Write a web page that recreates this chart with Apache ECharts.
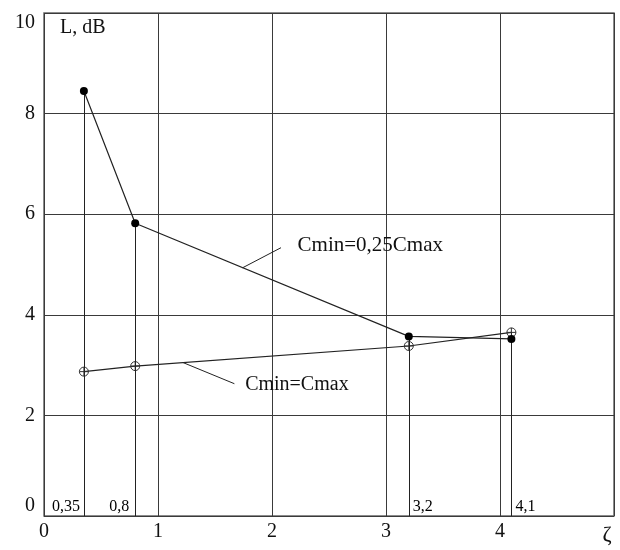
<!DOCTYPE html>
<html>
<head>
<meta charset="utf-8">
<script src="https://cdn.jsdelivr.net/npm/echarts@6/dist/echarts.min.js"></script>
<style>
html,body{margin:0;padding:0;background:#fff;}
#chart{width:620px;height:550px;}
</style>
</head>
<body>
<div id="chart"></div>
<script>
// ---- data ----
const xValues = [0.35, 0.8, 3.2, 4.1];
const seriesQuarter = [8.45, 5.82, 3.57, 3.52];   // Cmin=0,25Cmax (filled markers)
const seriesEqual = [2.87, 2.98, 3.38, 3.65];     // Cmin=Cmax (open markers)
const seriesNames = ['Cmin=0,25Cmax', 'Cmin=Cmax'];
const dropLabels = ['0,35', '0,8', '3,2', '4,1'];
const xTickLabels = ['0', '1', '2', '3', '4', 'ζ'];
const yTickLabels = ['0', '2', '4', '6', '8', '10'];
const yAxisTitle = 'L, dB';

const FONT = '"Liberation Serif", "DejaVu Serif", serif';
const INK = '#222';

const chart = echarts.init(document.getElementById('chart'), null, {renderer: 'canvas'});

const pairsQuarter = xValues.map((x, i) => [x, seriesQuarter[i]]);
const pairsEqual = xValues.map((x, i) => [x, seriesEqual[i]]);
const dropLines = xValues.map((x, i) => [
  {coord: [x, 0]},
  {coord: [x, Math.max(seriesQuarter[i], seriesEqual[i])]}
]);
const dropLabelData = xValues.map((x, i) => ({
  value: [x, 0],
  label: {
    position: i < 2 ? 'left' : 'right',
    distance: i === 1 ? 6 : 4,
    formatter: dropLabels[i]
  }
}));

const openSymbol = 'path://M0,-5 A5,5 0 1,1 0,5 A5,5 0 1,1 0,-5 Z M-5,0 L5,0 M0,-5 L0,5';

const option = {
  animation: false,
  backgroundColor: '#fff',
  grid: {
    left: 44, right: 6, top: 13, bottom: 34,
    show: true, borderColor: '#666', borderWidth: 1.5, backgroundColor: 'transparent'
  },
  xAxis: {
    type: 'value', min: 0, max: 5, interval: 1,
    axisLine: {show: false}, axisTick: {show: false},
    splitLine: {show: true, lineStyle: {color: '#3a3a3a', width: 1}},
    axisLabel: {
      showMinLabel: true, showMaxLabel: true,
      margin: 6,
      color: '#111', fontFamily: FONT, fontSize: 20,
      formatter: (v) => {
        const s = xTickLabels[Math.round(v)];
        return v === 5 ? '{z|' + s + '}' : s;
      },
      rich: {z: {fontFamily: FONT, fontSize: 22, color: '#111', padding: [2, 14, 0, 0]}}
    }
  },
  yAxis: {
    type: 'value', min: 0, max: 10, interval: 2,
    axisLine: {show: false}, axisTick: {show: false},
    splitLine: {show: true, lineStyle: {color: '#3a3a3a', width: 1}},
    axisLabel: {
      showMinLabel: true, showMaxLabel: true,
      margin: 9,
      color: '#111', fontFamily: FONT, fontSize: 20,
      verticalAlignMinLabel: 'bottom',
      verticalAlignMaxLabel: 'top',
      formatter: (v) => yTickLabels[Math.round(v / 2)]
    }
  },
  graphic: [{
    type: 'text', left: 60, top: 18,
    style: {text: yAxisTitle, font: '20px ' + FONT, fill: '#111'}
  }],
  series: [
    {
      name: seriesNames[0],
      type: 'line',
      data: pairsQuarter,
      symbol: 'circle', symbolSize: 8,
      lineStyle: {color: INK, width: 1.2},
      itemStyle: {color: '#000'},
      z: 5,
      markLine: {
        silent: true, symbol: 'none',
        lineStyle: {color: INK, width: 1, type: 'solid'},
        label: {show: false},
        data: [[{coord: [1.743, 4.936]}, {coord: [2.079, 5.334]}]]
      },
      markPoint: {
        symbol: 'circle', symbolSize: 1,
        itemStyle: {color: 'transparent'},
        label: {show: true, position: 'right', distance: 0, color: '#111', fontFamily: FONT, fontSize: 21,
                formatter: seriesNames[0]},
        data: [{coord: [2.22, 5.38]}]
      }
    },
    {
      name: seriesNames[1],
      type: 'line',
      data: pairsEqual,
      symbol: openSymbol, symbolSize: 9,
      lineStyle: {color: INK, width: 1.2},
      itemStyle: {color: 'rgba(255,255,255,0)', borderColor: '#333', borderWidth: 1},
      z: 4,
      markLine: {
        silent: true, symbol: 'none',
        lineStyle: {color: INK, width: 1, type: 'solid'},
        label: {show: false},
        data: [[{coord: [1.22, 3.05]}, {coord: [1.67, 2.63]}]]
      },
      markPoint: {
        symbol: 'circle', symbolSize: 1,
        itemStyle: {color: 'transparent'},
        label: {show: true, position: 'right', distance: 0, color: '#111', fontFamily: FONT, fontSize: 20,
                formatter: seriesNames[1]},
        data: [{coord: [1.76, 2.6]}]
      }
    },
    {
      name: 'drops',
      type: 'scatter',
      data: dropLabelData,
      symbolSize: 0,
      silent: true,
      z: 3,
      itemStyle: {opacity: 1, color: '#000'},
      label: {show: true, offset: [0, -9], color: '#000', fontFamily: FONT, fontSize: 16},
      markLine: {
        silent: true, symbol: 'none',
        lineStyle: {color: INK, width: 1, type: 'solid'},
        label: {show: false},
        data: dropLines
      }
    }
  ]
};
chart.setOption(option);
</script>
</body>
</html>
